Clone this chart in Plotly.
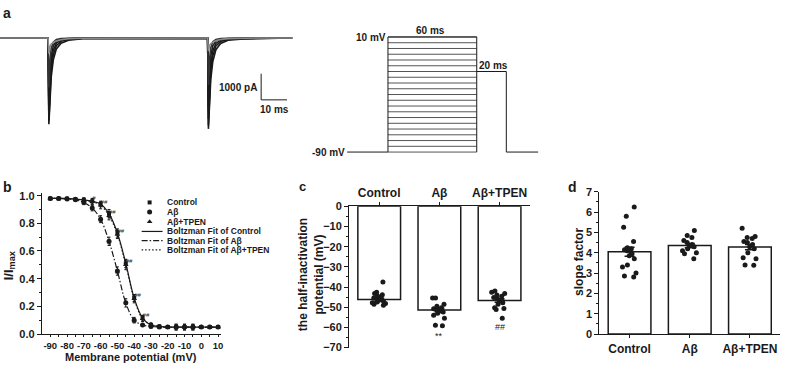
import plotly.graph_objects as go

W, H = 787, 370
FONT = "Liberation Sans"
INK = "#1a1a1a"

# ---------------- panel a: current sweeps (pA) ----------------
trace_time_ms = [0, 18.6, 18.9, 19.3, 19.8, 20.6, 21.8, 23.6, 26.5, 32, 78, 80.3,
                 80.6, 81.0, 81.5, 82.3, 83.5, 85.3, 88.2, 94, 100.2, 100.8, 113]
sweep_1 = [0, 0, -3300, -2300, -1500, -850, -420, -200, -90, -30, -20, -20,
           -3480, -2450, -1600, -900, -450, -210, -90, -40, -30, -10, 0]
sweep_2 = [0, 0, -3150, -2050, -1250, -650, -300, -130, -55, -20, -15, -15,
           -3350, -2200, -1300, -680, -310, -140, -60, -25, -20, -5, 0]
sweep_3 = [0, 0, -2950, -1800, -1000, -480, -200, -80, -30, -12, -10, -10,
           -3100, -1900, -1050, -500, -210, -85, -35, -15, -10, 0, 0]
sweep_4 = [0, 0, -2600, -1400, -700, -300, -120, -50, -20, -10, -10, -10,
           -2700, -1400, -700, -300, -120, -50, -20, -10, -10, 0, 0]
sweep_5 = [0, 0, -1900, -900, -400, -160, -60, -25, -10, -5, -5, -5,
           -1800, -850, -380, -150, -60, -25, -10, -5, -5, 0, 0]
sweep_6 = [0, 0, -600, -350, -230, -170, -120, -70, -30, -10, -5, -5,
           -500, -300, -220, -160, -110, -60, -25, -10, -5, 0, 0]

# voltage protocol
step_levels_mV = [-90, -85, -80, -75, -70, -65, -60, -55, -50, -45, -40,
                  -35, -30, -25, -20, -15, -10, -5, 0, 5, 10]
holding_mV = -90
test_mV = -20
lead_ms = 27.6
prepulse_ms = 60
test_ms = 20
tail_ms = 21.5

# ---------------- panel b: steady-state inactivation ----------------
membrane_mV = [-90, -85, -80, -75, -70, -65, -60, -55, -50, -45, -40,
               -35, -30, -25, -20, -15, -10, -5, 0, 5, 10]
ctrl_I = [0.98, 0.98, 0.98, 0.975, 0.97, 0.96, 0.94, 0.87, 0.73, 0.51, 0.26,
          0.115, 0.065, 0.055, 0.05, 0.05, 0.05, 0.05, 0.05, 0.05, 0.05]
abeta_I = [0.98, 0.98, 0.975, 0.97, 0.95, 0.91, 0.83, 0.67, 0.455, 0.225, 0.10,
           0.065, 0.055, 0.05, 0.05, 0.05, 0.05, 0.05, 0.05, 0.05, 0.05]
tpen_I = [0.98, 0.98, 0.98, 0.975, 0.965, 0.955, 0.93, 0.855, 0.72, 0.50, 0.255,
          0.11, 0.07, 0.055, 0.05, 0.05, 0.05, 0.05, 0.05, 0.05, 0.05]
ctrl_err = [0.005, 0.005, 0.005, 0.01, 0.015, 0.02, 0.02, 0.03, 0.03, 0.03, 0.025,
            0.02, 0.01, 0.01, 0.01, 0.02, 0.02, 0.02, 0.01, 0.005, 0.005]
abeta_err = [0.005, 0.005, 0.005, 0.01, 0.015, 0.02, 0.025, 0.03, 0.03, 0.03, 0.02,
             0.01, 0.01, 0.01, 0.01, 0.02, 0.02, 0.02, 0.01, 0.005, 0.005]
tpen_err = [0.005, 0.005, 0.005, 0.01, 0.015, 0.02, 0.025, 0.03, 0.03, 0.035, 0.03,
            0.02, 0.01, 0.01, 0.01, 0.02, 0.02, 0.02, 0.01, 0.005, 0.005]
ctrl_sig = ["", "", "", "", "", "#", "##", "##", "##", "##", "##",
            "##", "", "", "", "", "", "", "", "", ""]
abeta_sig = ["", "", "", "", "", "", "**", "**", "**", "**", "**",
             "", "", "", "", "", "", "", "", "", ""]

# ---------------- panels c, d ----------------
groups = ["Control", "Aβ", "Aβ+TPEN"]
half_inact_mean = [-46.2, -51.4, -46.7]
half_inact_sem = [0.8, 0.9, 0.9]
half_ctrl = [-37.5, -42.6, -43.2, -43.8, -44.5, -45.0, -45.4, -45.8, -46.2,
             -46.6, -47.0, -47.4, -47.8, -48.2, -48.6, -49.0]
half_abeta = [-45.5, -45.5, -48.5, -49.5, -50.3, -50.8, -51.2, -51.6, -52.0,
              -52.4, -53.0, -54.0, -55.5, -59.2, -59.0]
half_tpen = [-42.0, -42.6, -43.2, -44.0, -44.6, -45.2, -45.8, -46.4, -47.0,
             -47.8, -48.5, -50.3, -50.6, -51.2, -55.5]
half_sig = ["", "**", "##"]

slope_mean = [4.05, 4.35, 4.28]
slope_sem = [0.22, 0.1, 0.13]
slope_ctrl = [6.25, 5.8, 5.25, 4.55, 4.25, 4.2, 4.15, 4.1, 3.95, 3.85, 3.7,
              3.4, 3.3, 3.0, 2.85, 2.8]
slope_abeta = [5.1, 4.85, 4.75, 4.6, 4.5, 4.4, 4.35, 4.3, 4.2, 4.1, 4.0, 3.95, 3.7]
slope_tpen = [5.2, 4.8, 4.75, 4.7, 4.55, 4.5, 4.4, 4.3, 4.2, 4.0, 3.75, 3.7, 3.4, 3.38]


def xd(p0, p1):
    return [p0 / W, p1 / W]


def yd(top, bottom):
    return [1 - bottom / H, 1 - top / H]


fig = go.Figure()

# ---- panel a traces
sweep_colors = [INK, INK, INK, INK, "#333333", "#8a8a8a"]
for s, c in zip([sweep_1, sweep_2, sweep_3, sweep_4, sweep_5, sweep_6], sweep_colors):
    fig.add_trace(go.Scatter(x=trace_time_ms, y=s, mode="lines", xaxis="x", yaxis="y",
                             line=dict(color=c, width=1.6), hoverinfo="skip"))

# ---- protocol
px_, py_ = [], []
for v in step_levels_mV:
    px_ += [0, prepulse_ms, None]
    py_ += [v, v, None]
fig.add_trace(go.Scatter(x=px_, y=py_, mode="lines", xaxis="x2", yaxis="y2",
                         line=dict(color="#555555", width=1), hoverinfo="skip"))
fx = [-lead_ms, 0, 0, None, 0, prepulse_ms, None, prepulse_ms, prepulse_ms, None,
      prepulse_ms, prepulse_ms + test_ms, prepulse_ms + test_ms, prepulse_ms + test_ms + tail_ms]
fy = [holding_mV, holding_mV, step_levels_mV[-1], None, step_levels_mV[-1], step_levels_mV[-1], None,
      holding_mV, step_levels_mV[-1], None, test_mV, test_mV, holding_mV, holding_mV]
fig.add_trace(go.Scatter(x=fx, y=fy, mode="lines", xaxis="x2", yaxis="y2",
                         line=dict(color=INK, width=1), hoverinfo="skip"))

# ---- panel b
fig.add_trace(go.Scatter(x=membrane_mV, y=ctrl_I, mode="lines", xaxis="x3", yaxis="y3",
                         line=dict(color=INK, width=1.2, shape="spline"), hoverinfo="skip"))
fig.add_trace(go.Scatter(x=membrane_mV, y=abeta_I, mode="lines", xaxis="x3", yaxis="y3",
                         line=dict(color=INK, width=1.2, shape="spline", dash="6px,2px,1.5px,2px"),
                         hoverinfo="skip"))
fig.add_trace(go.Scatter(x=membrane_mV, y=tpen_I, mode="lines", xaxis="x3", yaxis="y3",
                         line=dict(color=INK, width=1.2, shape="spline", dash="1.5px,2px"),
                         hoverinfo="skip"))
for yv, ev, sym, sz in [(ctrl_I, ctrl_err, "square", 4), (abeta_I, abeta_err, "circle", 5),
                        (tpen_I, tpen_err, "triangle-up", 5)]:
    fig.add_trace(go.Scatter(x=membrane_mV, y=yv, mode="markers", xaxis="x3", yaxis="y3",
                             marker=dict(symbol=sym, size=sz, color=INK),
                             error_y=dict(type="data", array=ev, color=INK, thickness=1, width=1.5)))
fig.add_trace(go.Scatter(x=membrane_mV, y=tpen_I, mode="text", text=ctrl_sig, xaxis="x3", yaxis="y3",
                         textposition="top right", textfont=dict(size=6, color=INK, family=FONT)))
fig.add_trace(go.Scatter(x=membrane_mV, y=abeta_I, mode="text", text=abeta_sig, xaxis="x3", yaxis="y3",
                         textposition="bottom center", textfont=dict(size=6, color=INK, family=FONT)))

# ---- panel c
fig.add_trace(go.Bar(x=groups, y=half_inact_mean, xaxis="x4", yaxis="y4", width=0.71,
                     marker=dict(color="white", line=dict(color=INK, width=1.5)),
                     error_y=dict(type="data", array=half_inact_sem, color=INK, thickness=1.5, width=5)))
for g, vals in zip(groups, [half_ctrl, half_abeta, half_tpen]):
    fig.add_trace(go.Box(x=[g] * len(vals), y=vals, xaxis="x4", yaxis="y4", boxpoints="all",
                         jitter=1, pointpos=0, width=0.27, fillcolor="rgba(0,0,0,0)",
                         line=dict(width=0, color="rgba(0,0,0,0)"), whiskerwidth=0,
                         marker=dict(size=5, color=INK)))

# ---- panel d
fig.add_trace(go.Bar(x=groups, y=slope_mean, xaxis="x5", yaxis="y5", width=0.71,
                     marker=dict(color="white", line=dict(color=INK, width=1.5)),
                     error_y=dict(type="data", array=slope_sem, color=INK, thickness=1.5, width=5)))
for g, vals in zip(groups, [slope_ctrl, slope_abeta, slope_tpen]):
    fig.add_trace(go.Box(x=[g] * len(vals), y=vals, xaxis="x5", yaxis="y5", boxpoints="all",
                         jitter=1, pointpos=0, width=0.3, fillcolor="rgba(0,0,0,0)",
                         line=dict(width=0, color="rgba(0,0,0,0)"), whiskerwidth=0,
                         marker=dict(size=5, color=INK)))

# ---- panel b legend (on a pixel-space overlay axis)
leg_rows = [203, 213, 223, 233, 242.5, 252]
leg_labels = ["Control", "Aβ", "Aβ+TPEN", "Boltzman Fit of Control",
              "Boltzman Fit of Aβ", "Boltzman Fit of Aβ+TPEN"]
for row, sym, sz in zip(leg_rows[:3], ["square", "circle", "triangle-up"], [4, 5, 5]):
    fig.add_trace(go.Scatter(x=[150], y=[row], mode="markers", xaxis="x6", yaxis="y6",
                             marker=dict(symbol=sym, size=sz, color=INK), hoverinfo="skip"))
for row, dash in zip(leg_rows[3:], ["solid", "6px,2px,1.5px,2px", "1.5px,2px"]):
    fig.add_trace(go.Scatter(x=[142, 163], y=[row, row], mode="lines", xaxis="x6", yaxis="y6",
                             line=dict(color=INK, width=1.2, dash=dash), hoverinfo="skip"))

ann = []


def label(x, y, text, size=10, xanchor="center", yanchor="middle", angle=0):
    ann.append(dict(x=x, y=y, xref="x6", yref="y6", text=text, showarrow=False,
                    xanchor=xanchor, yanchor=yanchor, textangle=angle, borderpad=0,
                    font=dict(family=FONT, size=size, color=INK, weight="bold")))


for row, t in zip(leg_rows, leg_labels):
    label(166, row, t, size=8.5, xanchor="left")

label(7, 7, "a", size=14)
label(8, 187, "b", size=14)
label(303, 187, "c", size=13)
label(574, 187, "d", size=14)

# panel a texts
label(259, 84, "1000 pA", size=10, xanchor="right")
label(275, 107, "10 ms", size=10)
label(388, 33, "10 mV", size=10, xanchor="right")
label(432, 25, "60 ms", size=10)
label(495, 61, "20 ms", size=10)
label(347, 151, "-90 mV", size=10, xanchor="right")

# axis titles
label(9, 268, "I/I<sub>max</sub>", size=13, angle=-90)
label(131, 370, "Membrane potential (mV)", size=11, yanchor="bottom")
label(312, 278, "the half-inactivation<br>potential (mV)", size=12, angle=-90)
label(581, 265, "slope factor", size=12, angle=-90)

# significance in panel c
for g, s, yv in zip(groups, half_sig, [0, -64.5, -60]):
    if s:
        ann.append(dict(x=g, y=yv, xref="x4", yref="y4", text=s, showarrow=False,
                        font=dict(family=FONT, size=9, color=INK)))

# panel a scale bar
fig.add_trace(go.Scatter(x=[101, 101, 111], y=[-1370, -2370, -2370], mode="lines",
                         xaxis="x", yaxis="y", line=dict(color=INK, width=1), hoverinfo="skip"))

tick_font = dict(family=FONT, size=11, color=INK, weight="bold")
cat_font = dict(family=FONT, size=12, color=INK, weight="bold")

axis_common = dict(showline=True, linecolor=INK, linewidth=1.2, ticks="outside", ticklen=4,
                   tickwidth=1.2, tickcolor=INK, showgrid=False, zeroline=False)

fig.update_layout(
    width=W, height=H, autosize=False, showlegend=False,
    margin=dict(l=0, r=0, t=0, b=0),
    paper_bgcolor="white", plot_bgcolor="rgba(0,0,0,0)",
    font=dict(family=FONT, color=INK),
    xaxis=dict(domain=xd(0, 295), range=[0, 113.8], visible=False),
    yaxis=dict(domain=yd(10, 140), range=[-3963, 852], visible=False),
    xaxis2=dict(domain=xd(340, 545), range=[-33.0, 105.2], visible=False, anchor="y2"),
    yaxis2=dict(domain=yd(20, 160), range=[-97.6, 20.1], visible=False, anchor="x2"),
    xaxis3=dict(domain=xd(42, 222), range=[-95, 12], anchor="y3", tickangle=0,
                tickvals=membrane_mV[::2], ticktext=[str(v) for v in membrane_mV[::2]],
                tickfont=dict(family=FONT, size=9.5, color=INK, weight="bold"),
                minor=dict(tickvals=membrane_mV[1::2], ticklen=2, ticks="outside", tickcolor=INK),
                **{**axis_common, "ticklen": 2}),
    yaxis3=dict(domain=yd(193, 339), range=[0, 1.021], anchor="x3", dtick=0.2, tickformat=".1f",
                tickfont=tick_font, minor=dict(dtick=0.1, ticklen=2, ticks="outside", tickcolor=INK),
                **axis_common),
    xaxis4=dict(domain=xd(350, 531), range=[-0.5, 2.5], anchor="y4", side="top", type="category",
                tickfont=cat_font, tickangle=0, **{**axis_common, "ticklen": 3}),
    yaxis4=dict(domain=yd(207, 353), range=[-70, 0], anchor="x4", dtick=10,
                tickfont=tick_font, minor=dict(dtick=5, ticklen=2, ticks="outside", tickcolor=INK),
                **axis_common),
    xaxis5=dict(domain=xd(601, 782), range=[-0.5, 2.5], anchor="y5", type="category",
                tickfont=cat_font, tickangle=0, **{**axis_common, "ticklen": 3}),
    yaxis5=dict(domain=yd(192, 339), range=[0, 7], anchor="x5", dtick=1,
                tickfont=tick_font, minor=dict(dtick=0.5, ticklen=2, ticks="outside", tickcolor=INK),
                **axis_common),
    xaxis6=dict(domain=[0, 1], range=[0, W], visible=False, anchor="y6"),
    yaxis6=dict(domain=[0, 1], range=[H, 0], visible=False, anchor="x6"),
    annotations=ann,
    boxmode="overlay",
)

fig.write_html("out.html", config={"displayModeBar": False},
               post_script="document.body.style.margin='0';document.body.style.overflow='hidden';")
